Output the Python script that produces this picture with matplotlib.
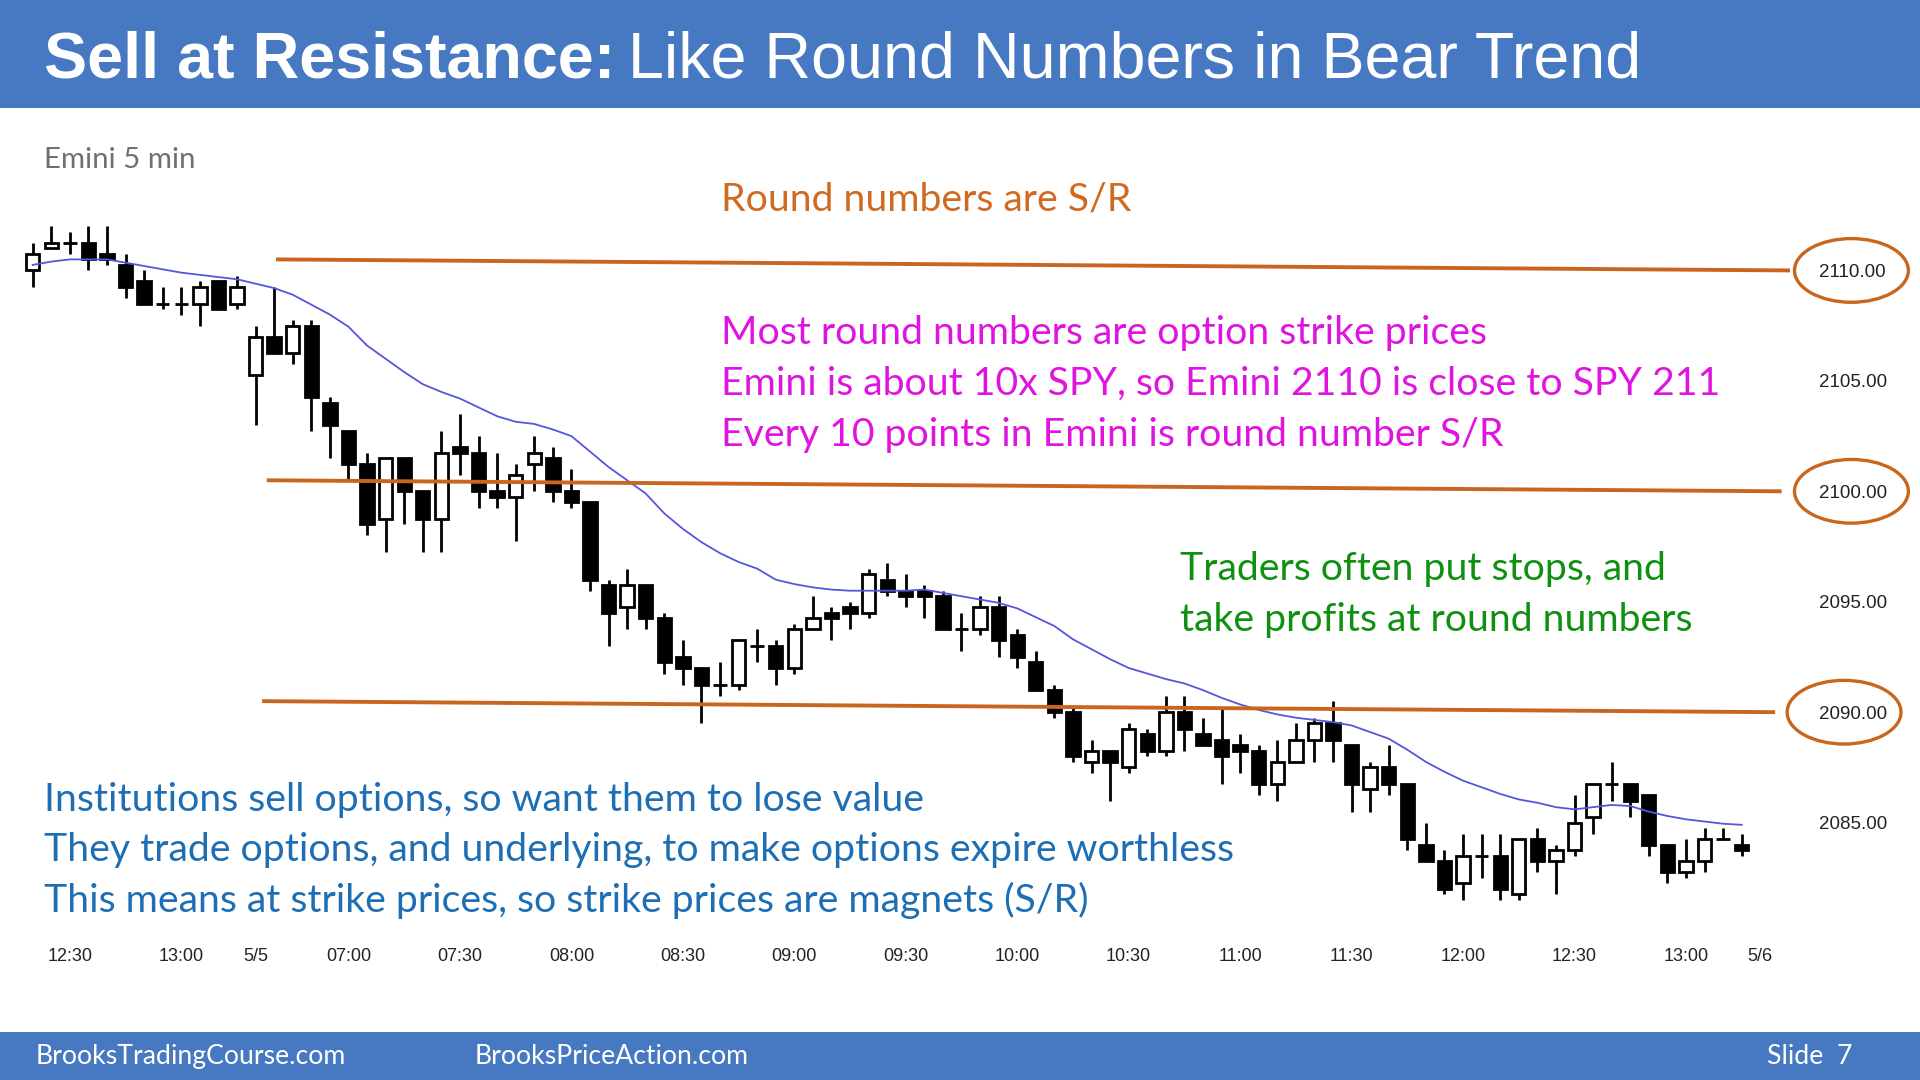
import matplotlib
matplotlib.use("Agg")
import matplotlib.pyplot as plt
import matplotlib.transforms as mtransforms
from matplotlib.patches import Ellipse, Rectangle

# Emini 5 min bars: end of previous day (12:20-13:15) and the 5/5 session (06:35-13:15)
opens = [2110, 2111, 2111.25, 2111.25, 2110.75, 2110.25, 2109.5, 2108.5, 2108.5, 2108.5,
         2109.5, 2108.5, 2105.25, 2107, 2106.25, 2107.5, 2104, 2102.75, 2101.25, 2098.75,
         2101.5, 2100, 2098.75, 2102, 2101.75, 2100, 2099.75, 2101.25, 2101.5, 2100,
         2099.5, 2095.75, 2094.75, 2095.75, 2094.25, 2092.5, 2092, 2091.25, 2091.25, 2093,
         2093, 2092, 2093.75, 2094.5, 2094.75, 2094.5, 2096, 2095.5, 2095.5, 2095.25,
         2093.75, 2093.75, 2094.75, 2093.5, 2092.25, 2091, 2090, 2087.75, 2088.25, 2087.5,
         2089, 2088.25, 2090, 2089, 2088.75, 2088.5, 2088.25, 2086.75, 2087.75, 2088.75,
         2089.5, 2088.5, 2086.5, 2087.5, 2086.75, 2084, 2083.25, 2082.25, 2083.5, 2083.5,
         2081.75, 2084.25, 2083.25, 2083.75, 2085.25, 2086.75, 2086.75, 2086.25, 2084, 2082.75,
         2083.25, 2084.25, 2084]
highs = [2111.25, 2112, 2111.75, 2112, 2112, 2110.75, 2110, 2109.25, 2109.25, 2109.5,
         2109.5, 2109.75, 2107.5, 2109.25, 2107.75, 2107.75, 2104.25, 2102.75, 2101.75, 2101.5,
         2101.5, 2100, 2102.75, 2103.5, 2102.5, 2101.75, 2101.25, 2102.5, 2102, 2101,
         2099.5, 2096, 2096.5, 2095.75, 2094.5, 2093.25, 2092, 2092.25, 2093.25, 2093.75,
         2093.25, 2094, 2095.25, 2094.75, 2095, 2096.5, 2096.75, 2096.25, 2095.75, 2095.5,
         2094.5, 2095.25, 2095.25, 2093.75, 2092.75, 2091.25, 2090.25, 2088.75, 2088.25, 2089.5,
         2089.25, 2090.75, 2090.75, 2089.75, 2090.25, 2089, 2088.5, 2088.75, 2089.5, 2089.75,
         2090.5, 2088.5, 2087.75, 2088.5, 2086.75, 2085, 2083.75, 2084.5, 2084.5, 2084.5,
         2084.25, 2084.75, 2084, 2086.25, 2086.75, 2087.75, 2086.75, 2086.25, 2084, 2084.25,
         2084.75, 2084.75, 2084.5]
lows = [2109.25, 2111, 2110.75, 2110, 2110.25, 2108.75, 2108.5, 2108.25, 2108, 2107.5,
        2108.25, 2108.25, 2103, 2106.25, 2105.75, 2102.75, 2101.5, 2100.5, 2098, 2097.25,
        2098.5, 2097.25, 2097.25, 2100.75, 2099.25, 2099.25, 2097.75, 2100, 2099.5, 2099.25,
        2095.5, 2093, 2093.75, 2093.75, 2091.75, 2091.25, 2089.5, 2090.75, 2091, 2092.25,
        2091.25, 2091.75, 2093.75, 2093.25, 2093.75, 2094.25, 2095.25, 2094.75, 2094.25, 2093.75,
        2092.75, 2093.5, 2092.5, 2092, 2091, 2089.75, 2087.75, 2087.25, 2086, 2087.25,
        2088, 2088, 2088.25, 2088.5, 2086.75, 2087.25, 2086.25, 2086, 2087.75, 2087.75,
        2087.75, 2085.5, 2085.5, 2086.25, 2083.75, 2083.25, 2081.75, 2081.5, 2082.5, 2081.5,
        2081.5, 2082.75, 2081.75, 2083.5, 2084.5, 2086, 2085.25, 2083.5, 2082.25, 2082.5,
        2082.75, 2084.25, 2083.5]
closes = [2110.75, 2111.25, 2111.25, 2110.5, 2110.5, 2109.25, 2108.5, 2108.5, 2108.5, 2109.25,
          2108.25, 2109.25, 2107, 2106.25, 2107.5, 2104.25, 2103, 2101.25, 2098.5, 2101.5,
          2100, 2098.75, 2101.75, 2101.75, 2100, 2099.75, 2100.75, 2101.75, 2100, 2099.5,
          2096, 2094.5, 2095.75, 2094.25, 2092.25, 2092, 2091.25, 2091.25, 2093.25, 2093,
          2092, 2093.75, 2094.25, 2094.25, 2094.5, 2096.25, 2095.5, 2095.25, 2095.25, 2093.75,
          2093.75, 2094.75, 2093.25, 2092.5, 2091, 2090, 2088, 2088.25, 2087.75, 2089.25,
          2088.25, 2090, 2089.25, 2088.5, 2088, 2088.25, 2086.75, 2087.75, 2088.75, 2089.5,
          2088.75, 2086.75, 2087.5, 2086.75, 2084.25, 2083.25, 2082, 2083.5, 2083.5, 2082,
          2084.25, 2083.25, 2083.75, 2085, 2086.75, 2086.75, 2086, 2084, 2082.75, 2083.25,
          2084.25, 2084.25, 2083.75]
# 20 bar EMA
ema20 = [2110.25, 2110.4, 2110.5, 2110.5, 2110.5, 2110.35, 2110.2, 2110.05, 2109.9, 2109.8,
         2109.7, 2109.6, 2109.4, 2109.2, 2108.9, 2108.45, 2108.0, 2107.45, 2106.6, 2106.0,
         2105.4, 2104.85, 2104.5, 2104.2, 2103.8, 2103.4, 2103.15, 2103.05, 2102.8, 2102.5,
         2101.8, 2101.1, 2100.5, 2099.9, 2099.0, 2098.3, 2097.7, 2097.2, 2096.8, 2096.5,
         2096.0, 2095.8, 2095.65, 2095.55, 2095.5, 2095.5, 2095.5, 2095.5, 2095.55, 2095.4,
         2095.25, 2095.1, 2094.95, 2094.7, 2094.3, 2093.9, 2093.3, 2092.85, 2092.4, 2092.0,
         2091.75, 2091.5, 2091.3, 2091.0, 2090.65, 2090.35, 2090.1, 2089.9, 2089.75, 2089.65,
         2089.55, 2089.4, 2089.1, 2088.8, 2088.3, 2087.75, 2087.3, 2086.9, 2086.6, 2086.3,
         2086.05, 2085.9, 2085.7, 2085.6, 2085.7, 2085.8, 2085.75, 2085.5, 2085.3, 2085.15,
         2085.05, 2084.95, 2084.9]

time_tick_bars = [2, 8, 12, 17, 23, 29, 35, 41, 47, 53, 59, 65, 71, 77, 83, 89, 93]
time_tick_labels = ["12:30", "13:00", "5/5", "07:00", "07:30", "08:00", "08:30", "09:00",
                    "09:30", "10:00", "10:30", "11:00", "11:30", "12:00", "12:30", "13:00", "5/6"]
price_ticks = [2085, 2090, 2095, 2100, 2105, 2110]
round_numbers = [2110, 2100, 2090]

BAR_BLUE = "#4679c2"
ORANGE = "#c8661e"
TXT = 28.3

# layout is worked out in units of a 1568 x 882 slide
W, H = 1568.0, 882.0


def fx(x):
    return x / W


def fy(y):
    return 1 - y / H


fig = plt.figure(figsize=(19.2, 10.8), dpi=100)
fig.patch.set_facecolor("white")

# header and footer bands
fig.add_artist(Rectangle((0, fy(88)), 1, 88 / H, transform=fig.transFigure,
                         facecolor=BAR_BLUE, edgecolor="none", zorder=0))
fig.add_artist(Rectangle((0, 0), 1, fy(843), transform=fig.transFigure,
                         facecolor=BAR_BLUE, edgecolor="none", zorder=0))

fig.text(fx(36), fy(63), "Sell at Resistance:", color="white", fontsize=46.5,
         fontweight="bold", family="Liberation Sans")
fig.text(fx(513), fy(63), "Like Round Numbers in Bear Trend", color="white", fontsize=46.5,
         family="Liberation Sans")

foot = dict(color="white", fontsize=19.2, family="Lato")
fig.text(fx(29), fy(869), "BrooksTradingCourse.com", **foot)
fig.text(fx(388), fy(869), "BrooksPriceAction.com", **foot)
fig.text(fx(1443), fy(869), "Slide  7", **foot)

# price chart
ax = fig.add_axes([0, fy(762), fx(1460), (762 - 100) / H])
ax.set_facecolor("none")
ax.set_xlim(-1.76, 94.48)
ax.set_ylim(2080.0, 2116.7)
for s in ax.spines.values():
    s.set_visible(False)

xs = list(range(len(opens)))
ax.vlines(xs, lows, highs, color="black", linewidth=2.0, zorder=2)
for x, o, c in zip(xs, opens, closes):
    face = "white" if c > o else "black"
    ax.bar(x, abs(c - o), bottom=min(o, c), width=0.72, color=face,
           edgecolor="black", linewidth=2.0, zorder=3)
ax.plot(xs, ema20, color="#5555dd", linewidth=1.3, zorder=4)

# round number lines, drawn slightly tilted like the hand drawn ones
line_start = [13.1, 12.6, 12.35]
line_end = [94.6, 94.15, 93.8]
for lvl, x0, x1 in zip(round_numbers, line_start, line_end):
    ax.plot([x0, x1], [lvl + 0.5, lvl], color=ORANGE, linewidth=2.8,
            solid_capstyle="butt", zorder=5, clip_on=False)

ax.set_yticks(price_ticks, [f"{p:.2f}" for p in price_ticks])
ax.yaxis.tick_right()
ax.tick_params(axis="y", length=0, pad=22.5, labelsize=13.5, labelcolor="#222222",
               labelfontfamily="Liberation Sans")
ax.set_xticks(time_tick_bars, time_tick_labels)
ax.tick_params(axis="x", length=0, pad=10.5, labelsize=13, labelcolor="#222222",
               labelfontfamily="Liberation Sans")

trans = mtransforms.blended_transform_factory(fig.transFigure, ax.transData)
ell_x = [1512, 1512, 1506]
for lvl, ex in zip(round_numbers, ell_x):
    ax.add_patch(Ellipse((fx(ex), lvl), 93 / W, 52 / 18.04, transform=trans, fill=False,
                         edgecolor=ORANGE, linewidth=2.4, clip_on=False, zorder=5))

# slide text
fig.text(fx(36), fy(137), "Emini 5 min", color="#707070", fontsize=21.2, family="Lato")
fig.text(fx(589), fy(172), "Round numbers are S/R", color="#cf6a20", fontsize=TXT,
         family="Lato")

magenta = ["Most round numbers are option strike prices",
           "Emini is about 10x SPY, so Emini 2110 is close to SPY 211",
           "Every 10 points in Emini is round number S/R"]
for i, t in enumerate(magenta):
    fig.text(fx(589), fy(281 + 41.5 * i), t, color="#e014e0", fontsize=TXT, family="Lato")

green = ["Traders often put stops, and", "take profits at round numbers"]
for i, t in enumerate(green):
    fig.text(fx(964), fy(474 + 41.5 * i), t, color="#109010", fontsize=TXT, family="Lato")

blue = ["Institutions sell options, so want them to lose value",
        "They trade options, and underlying, to make options expire worthless",
        "This means at strike prices, so strike prices are magnets (S/R)"]
for i, t in enumerate(blue):
    fig.text(fx(36), fy(662 + 41.5 * i), t, color="#1e6eb4", fontsize=TXT, family="Lato")

fig.savefig("out.png", dpi=100, facecolor="white")
